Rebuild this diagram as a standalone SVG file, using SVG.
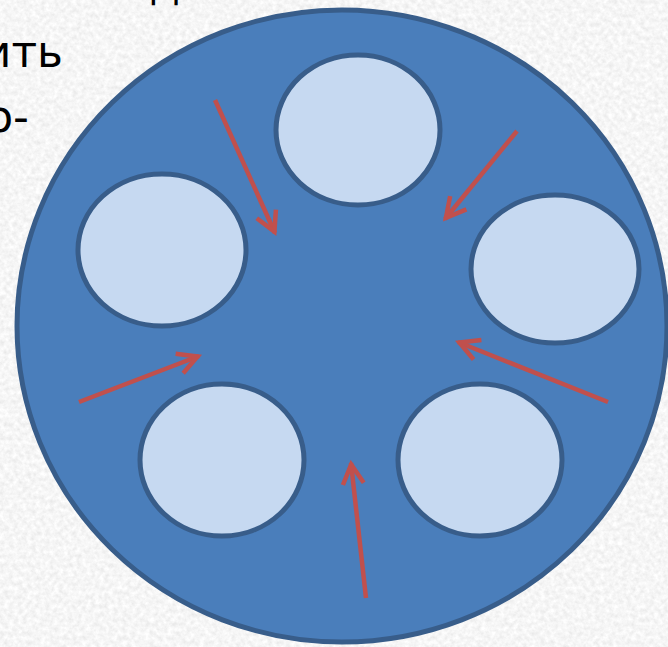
<svg xmlns="http://www.w3.org/2000/svg" width="668" height="647" viewBox="0 0 668 647">
  <defs>
    <filter id="tex" x="0" y="0" width="100%" height="100%">
      <feTurbulence type="fractalNoise" baseFrequency="0.22" numOctaves="3" seed="7" result="n"/>
      <feColorMatrix in="n" type="matrix" values="0.28 0 0 0 0.78  0.28 0 0 0 0.78  0.28 0 0 0 0.78  0 0 0 0 1"/>
    </filter>
    <marker id="head" markerUnits="userSpaceOnUse" markerWidth="30" markerHeight="30" viewBox="-26 -15 30 30" refX="0" refY="0" orient="auto" overflow="visible">
      <path d="M-21,-10.5 L-1.5,0 L-21,10.5" fill="none" stroke="#c0504d" stroke-width="4.5" stroke-linecap="butt" stroke-linejoin="miter"/>
    </marker>
    <style>
      .txt { font-family: "DejaVu Sans", "Open Sans", sans-serif; font-size: 44px; fill: #000; }
      .outer { fill: #4a7ebb; stroke: #385d8a; stroke-width: 5; }
      .hole { fill: #c6d9f1; stroke: #385d8a; stroke-width: 5; }
      .arrow { fill: none; stroke: #c0504d; stroke-width: 4.5; marker-end: url(#head); }
    </style>
  </defs>

  <rect x="0" y="0" width="668" height="647" fill="#e8e8e8"/>
  <rect x="0" y="0" width="668" height="647" filter="url(#tex)"/>

  <g id="text">
    <text class="txt" x="180" y="-1" text-anchor="end">д</text>
    <text class="txt" x="63" y="67" text-anchor="end">ить</text>
    <text class="txt" x="29" y="132" text-anchor="end">о-</text>
  </g>

  <g id="disk">
    <ellipse class="outer" cx="342" cy="326" rx="325" ry="316"/>
  </g>
  <g id="hole-top">
    <ellipse class="hole" cx="358" cy="130" rx="82" ry="75"/>
  </g>
  <g id="hole-left">
    <ellipse class="hole" cx="162" cy="250" rx="84" ry="76"/>
  </g>
  <g id="hole-right">
    <ellipse class="hole" cx="555" cy="269" rx="84" ry="74"/>
  </g>
  <g id="hole-bottom-left">
    <ellipse class="hole" cx="222" cy="460" rx="82" ry="76"/>
  </g>
  <g id="hole-bottom-right">
    <ellipse class="hole" cx="480" cy="460" rx="82" ry="76"/>
  </g>

  <g id="connectors">
    <line class="arrow" x1="215" y1="100" x2="275" y2="233"/>
    <line class="arrow" x1="517" y1="131" x2="445" y2="219"/>
    <line class="arrow" x1="79" y1="402" x2="199" y2="356"/>
    <line class="arrow" x1="608" y1="402" x2="458" y2="342"/>
    <line class="arrow" x1="366" y1="598" x2="351" y2="463"/>
  </g>
</svg>
